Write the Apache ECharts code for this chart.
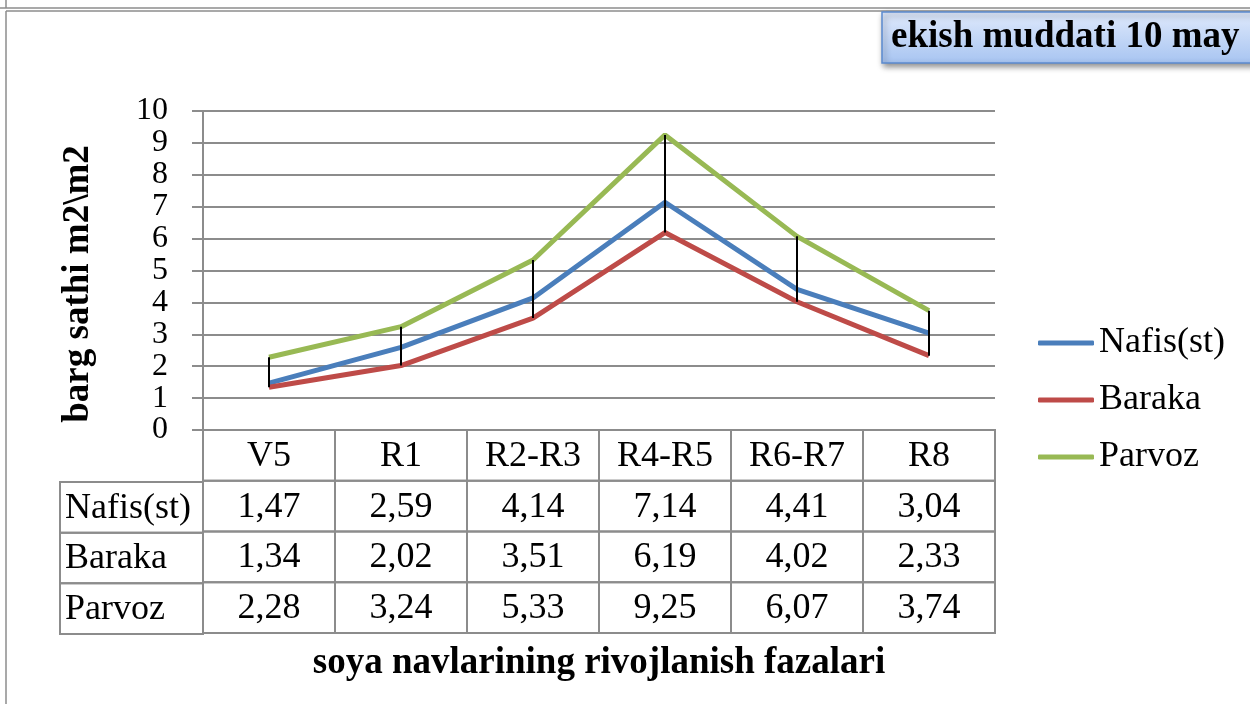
<!DOCTYPE html>
<html>
<head>
<meta charset="utf-8">
<script src="https://cdn.jsdelivr.net/npm/echarts@6/dist/echarts.min.js"></script>
<style>
  html, body { margin: 0; padding: 0; background: #fff; }
  #main { width: 1250px; height: 704px; }
</style>
</head>
<body>
<div id="main"></div>
<script>
const categories = ['V5', 'R1', 'R2-R3', 'R4-R5', 'R6-R7', 'R8'];
const seriesNames = ['Nafis(st)', 'Baraka', 'Parvoz'];
const nafis = [1.47, 2.59, 4.14, 7.14, 4.41, 3.04];
const baraka = [1.34, 2.02, 3.51, 6.19, 4.02, 2.33];
const parvoz = [2.28, 3.24, 5.33, 9.25, 6.07, 3.74];
const yMin = 0, yMax = 10, yStep = 1;

const FONT = 'Liberation Serif';
const GRAY = '#8c8c8c';
const colors = ['#4a7ebb', '#be4b48', '#98b954'];
const allValues = [nafis, baraka, parvoz];

const fmt = v => v.toFixed(2).replace('.', ',');

// high-low lines: min and max of the three series at each category
const hiLo = categories.map((c, i) => {
  const vals = allValues.map(s => s[i]);
  return [i, Math.min(...vals), Math.max(...vals)];
});

// table cells: row 0 = category header, rows 1..3 = values
const tableRows = [''].concat(seriesNames);
const tableCells = [];
categories.forEach((c, ci) => {
  tableCells.push([ci, 0, c]);
  allValues.forEach((s, si) => tableCells.push([ci, si + 1, fmt(s[ci])]));
});
const headCells = seriesNames.map((n, i) => [0, i, n]);

const myChart = echarts.init(document.getElementById('main'));

const option = {
  animation: false,
  title: {
    text: 'ekish muddati 10 may',
    left: 882,
    top: 12,
    padding: [3, 40, 4, 9],
    backgroundColor: new echarts.graphic.LinearGradient(0, 0, 0, 1, [
      { offset: 0, color: '#e0eafc' },
      { offset: 1, color: '#a7c4f1' }
    ]),
    borderColor: '#5b8bd0',
    borderWidth: 1.5,
    shadowBlur: 6,
    shadowColor: 'rgba(0,0,0,0.45)',
    shadowOffsetX: 2,
    shadowOffsetY: 3,
    textStyle: {
      fontFamily: FONT,
      fontWeight: 'bold',
      fontSize: 37,
      lineHeight: 44,
      color: '#000'
    }
  },
  legend: {
    orient: 'vertical',
    left: 1033,
    top: 318,
    itemWidth: 56,
    itemHeight: 5,
    itemGap: 17,
    icon: 'roundRect',
    data: seriesNames,
    textStyle: {
      fontFamily: FONT,
      fontSize: 36,
      lineHeight: 40,
      color: '#000'
    }
  },
  grid: [
    { left: 203, right: 255, top: 111, bottom: 274 },
    { left: 203, right: 255, top: 430, height: 203 },
    { left: 60, width: 143, top: 482, height: 152 }
  ],
  xAxis: [
    {
      gridIndex: 0,
      type: 'category',
      data: categories,
      boundaryGap: true,
      axisLine: { lineStyle: { color: GRAY, width: 2 } },
      axisTick: { show: false },
      axisLabel: { show: false }
    },
    { gridIndex: 1, type: 'category', data: categories, show: false },
    { gridIndex: 2, type: 'category', data: ['row'], show: false }
  ],
  yAxis: [
    {
      gridIndex: 0,
      type: 'value',
      min: yMin,
      max: yMax,
      interval: yStep,
      axisLine: { show: true, lineStyle: { color: GRAY, width: 2 } },
      axisTick: { show: true, length: 11, lineStyle: { color: GRAY, width: 2 } },
      axisLabel: {
        fontFamily: FONT,
        fontSize: 32,
        lineHeight: 30,
        color: '#000',
        margin: 35,
        showMinLabel: true,
        showMaxLabel: true,
        hideOverlap: false
      },
      splitLine: { lineStyle: { color: GRAY, width: 2 } }
    },
    { gridIndex: 1, type: 'category', data: tableRows, inverse: true, show: false },
    { gridIndex: 2, type: 'category', data: seriesNames, inverse: true, show: false }
  ],
  graphic: [
    { type: 'line', shape: { x1: 0, y1: 8, x2: 1250, y2: 8 }, style: { stroke: GRAY, lineWidth: 1.5 } },
    { type: 'line', shape: { x1: 6, y1: 11, x2: 1250, y2: 11 }, style: { stroke: GRAY, lineWidth: 1.5 } },
    { type: 'line', shape: { x1: 6, y1: 0, x2: 6, y2: 8 }, style: { stroke: GRAY, lineWidth: 1.5 } },
    { type: 'line', shape: { x1: 6, y1: 11, x2: 6, y2: 704 }, style: { stroke: GRAY, lineWidth: 1.5 } },
    {
      type: 'text',
      x: 78,
      y: 284,
      rotation: Math.PI / 2,
      style: {
        text: 'barg sathi m2\\m2',
        font: 'bold 37px "' + FONT + '"',
        fill: '#000',
        align: 'center',
        verticalAlign: 'middle'
      }
    },
    {
      type: 'text',
      x: 599,
      y: 663,
      style: {
        text: 'soya navlarining rivojlanish fazalari',
        font: 'bold 37px "' + FONT + '"',
        fill: '#000',
        align: 'center',
        verticalAlign: 'middle'
      }
    }
  ],
  series: [
    {
      name: seriesNames[0], type: 'line', data: nafis, xAxisIndex: 0, yAxisIndex: 0,
      symbol: 'none', color: colors[0], lineStyle: { width: 5, color: colors[0] }, z: 3
    },
    {
      name: seriesNames[1], type: 'line', data: baraka, xAxisIndex: 0, yAxisIndex: 0,
      symbol: 'none', color: colors[1], lineStyle: { width: 5, color: colors[1] }, z: 3
    },
    {
      name: seriesNames[2], type: 'line', data: parvoz, xAxisIndex: 0, yAxisIndex: 0,
      symbol: 'none', color: colors[2], lineStyle: { width: 5, color: colors[2] }, z: 3
    },
    {
      // high-low lines
      type: 'custom',
      xAxisIndex: 0,
      yAxisIndex: 0,
      z: 5,
      data: hiLo,
      renderItem: (params, api) => {
        const lo = api.coord([api.value(0), api.value(1)]);
        const hi = api.coord([api.value(0), api.value(2)]);
        return {
          type: 'line',
          shape: { x1: lo[0], y1: lo[1], x2: hi[0], y2: hi[1] },
          style: { stroke: '#000', lineWidth: 2 }
        };
      }
    },
    {
      // data table
      type: 'custom',
      xAxisIndex: 1,
      yAxisIndex: 1,
      data: tableCells,
      renderItem: (params, api) => {
        const c = api.coord([api.value(0), api.value(1)]);
        const s = api.size([1, 1]);
        const txt = tableCells[params.dataIndex][2];
        return {
          type: 'group',
          children: [
            {
              type: 'rect',
              shape: { x: c[0] - s[0] / 2, y: c[1] - s[1] / 2, width: s[0], height: s[1] },
              style: { fill: 'transparent', stroke: GRAY, lineWidth: 2 }
            },
            {
              type: 'text',
              x: c[0],
              y: c[1] + 1,
              style: {
                text: txt,
                font: '36px "' + FONT + '"',
                fill: '#000',
                align: 'center',
                verticalAlign: 'middle'
              }
            }
          ]
        };
      }
    },
    {
      // table row headers
      type: 'custom',
      xAxisIndex: 2,
      yAxisIndex: 2,
      data: headCells,
      renderItem: (params, api) => {
        const c = api.coord([api.value(0), api.value(1)]);
        const s = api.size([1, 1]);
        return {
          type: 'group',
          children: [
            {
              type: 'rect',
              shape: { x: c[0] - s[0] / 2, y: c[1] - s[1] / 2, width: s[0], height: s[1] },
              style: { fill: 'transparent', stroke: GRAY, lineWidth: 2 }
            },
            {
              type: 'text',
              x: c[0] - s[0] / 2 + 5,
              y: c[1] + 1,
              style: {
                text: headCells[params.dataIndex][2],
                font: '36px "' + FONT + '"',
                fill: '#000',
                align: 'left',
                verticalAlign: 'middle'
              }
            }
          ]
        };
      }
    }
  ]
};

myChart.setOption(option, true);
window.addEventListener('resize', () => {
  myChart.resize();
});
</script>
</body>
</html>
